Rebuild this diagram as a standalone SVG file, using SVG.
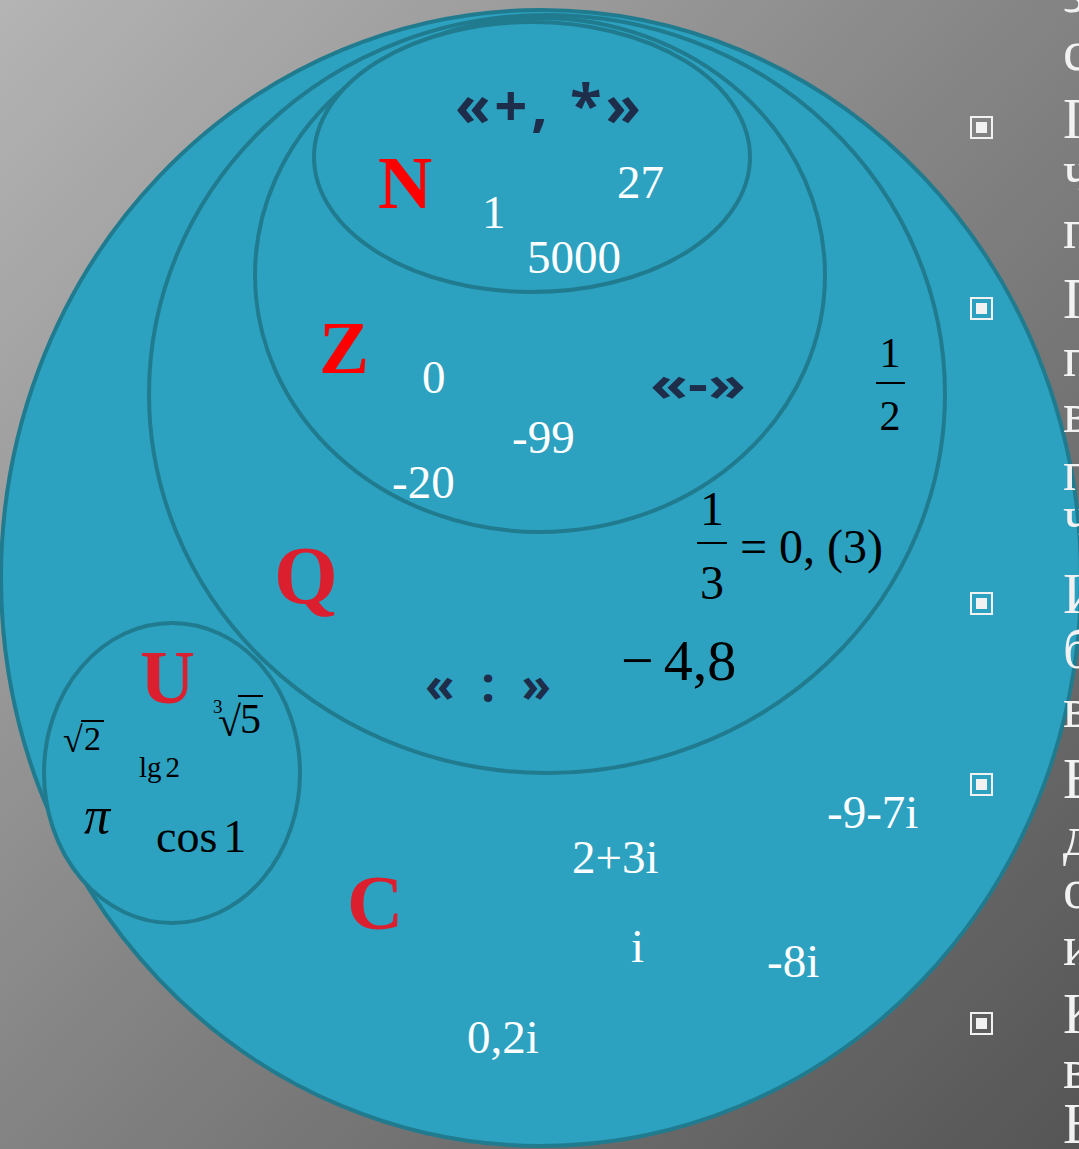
<svg xmlns="http://www.w3.org/2000/svg" width="1079" height="1149" viewBox="0 0 1079 1149">
<defs>
<linearGradient id="bg" x1="0" y1="0" x2="1" y2="1">
<stop offset="0" stop-color="#b4b4b4"/>
<stop offset="0.5" stop-color="#838383"/>
<stop offset="1" stop-color="#555555"/>
</linearGradient>
</defs>
<style>
.set{fill:#2ca2c0;stroke:#217b8f;stroke-width:4}
.lab{font-family:"Liberation Serif",serif;font-weight:bold}
.red1{fill:#ff0000}
.red2{fill:#dc1f2e}
.num{font-family:"Liberation Serif",serif;fill:#ffffff;font-size:47px}
.op{font-family:"Open Sans","Liberation Sans",sans-serif;font-weight:bold;fill:#1e2d4a}
.m{font-family:"Liberation Serif",serif;fill:#000000}
.side{font-family:"Liberation Serif",serif;fill:#f2f2f2;font-size:56px}
.bul{fill:none;stroke:#f2f2f2;stroke-width:2}
.bulc{fill:#f2f2f2}
.bar{stroke:#000;stroke-width:2}
</style>
<rect x="0" y="0" width="1079" height="1149" fill="url(#bg)"/>

<g id="set-C">
<ellipse class="set" cx="541" cy="578" rx="540" ry="568"/>
</g>
<g id="set-Q">
<ellipse class="set" cx="547" cy="394" rx="398" ry="379"/>
</g>
<g id="set-Z">
<ellipse class="set" cx="540" cy="275" rx="285" ry="257"/>
</g>
<g id="set-N">
<ellipse class="set" cx="532" cy="157" rx="218" ry="135"/>
</g>
<g id="set-U">
<ellipse class="set" cx="172" cy="773" rx="128" ry="150"/>
</g>

<g id="side-text">
<text class="side" x="1063" y="12">з</text>
<text class="side" x="1063" y="70">с</text>
<text class="side" x="1063" y="138">П</text>
<text class="side" x="1063" y="190">ч</text>
<text class="side" x="1063" y="248">п</text>
<text class="side" x="1063" y="318">П</text>
<text class="side" x="1063" y="376">п</text>
<text class="side" x="1063" y="432">в</text>
<text class="side" x="1063" y="490">п</text>
<text class="side" x="1063" y="535">ч</text>
<text class="side" x="1063" y="613">И</text>
<text class="side" x="1063" y="668">б</text>
<text class="side" x="1063" y="727">в</text>
<text class="side" x="1063" y="798">В</text>
<text class="side" x="1063" y="855">д</text>
<text class="side" x="1063" y="908">о</text>
<text class="side" x="1063" y="965">и</text>
<text class="side" x="1063" y="1033">К</text>
<text class="side" x="1063" y="1088">в</text>
<text class="side" x="1063" y="1143">Ь</text>
</g>

<g id="bullets">
<rect class="bul" x="971" y="117" width="21" height="21"/><rect class="bulc" x="976" y="122" width="11" height="11"/>
<rect class="bul" x="971" y="298" width="21" height="21"/><rect class="bulc" x="976" y="303" width="11" height="11"/>
<rect class="bul" x="971" y="593" width="21" height="21"/><rect class="bulc" x="976" y="598" width="11" height="11"/>
<rect class="bul" x="971" y="774" width="21" height="21"/><rect class="bulc" x="976" y="779" width="11" height="11"/>
<rect class="bul" x="971" y="1013" width="21" height="21"/><rect class="bulc" x="976" y="1018" width="11" height="11"/>
</g>

<g id="labels-N">
<text class="op" x="455" y="126" font-size="58" textLength="186" lengthAdjust="spacing">«+, *»</text>
<text class="lab red1" x="378" y="208" font-size="75">N</text>
<text class="num" x="482" y="228">1</text>
<text class="num" x="617" y="198">27</text>
<text class="num" x="527" y="273">5000</text>
</g>

<g id="labels-Z">
<text class="lab red1" x="319" y="373" font-size="75">Z</text>
<text class="num" x="422" y="393">0</text>
<text class="num" x="512" y="453">-99</text>
<text class="num" x="392" y="498">-20</text>
<text class="op" x="650" y="401" font-size="48" textLength="96" lengthAdjust="spacingAndGlyphs">«-»</text>
</g>

<g id="labels-Q">
<text class="lab red2" x="274" y="603" font-size="82">Q</text>
<text class="op" x="425" y="702" font-size="48" textLength="126" lengthAdjust="spacing">« : »</text>
<text class="m" x="890" y="367" font-size="42" text-anchor="middle">1</text>
<line class="bar" x1="876" y1="383" x2="905" y2="383"/>
<text class="m" x="890" y="430" font-size="42" text-anchor="middle">2</text>
<text class="m" x="712" y="525" font-size="48" text-anchor="middle">1</text>
<line class="bar" x1="697" y1="543" x2="727" y2="543"/>
<text class="m" x="712" y="599" font-size="48" text-anchor="middle">3</text>
<text class="m" x="740" y="563" font-size="48">= 0, (3)</text>
<text class="m" x="621" y="680" font-size="58">−<tspan dx="10">4,8</tspan></text>
</g>

<g id="labels-U">
<text class="lab red2" x="140" y="703" font-size="76">U</text>
<text class="m" x="63" y="752" font-size="36">√</text>
<line class="bar" x1="81" y1="721" x2="104" y2="721" stroke-width="1.5"/>
<text class="m" x="84" y="750" font-size="34">2</text>
<text class="m" x="213" y="713" font-size="19">3</text>
<text class="m" x="218" y="736" font-size="42">√</text>
<line class="bar" x1="238" y1="696" x2="263" y2="696" stroke-width="1.5"/>
<text class="m" x="240" y="733" font-size="42">5</text>
<text class="m" x="139" y="777" font-size="29">lg<tspan dx="4">2</tspan></text>
<text class="m" x="84" y="833" font-size="52" font-style="italic">π</text>
<text class="m" x="156" y="852" font-size="46">cos<tspan dx="6">1</tspan></text>
</g>

<g id="labels-C">
<text class="lab red2" x="347" y="929" font-size="78">C</text>
<text class="num" x="572" y="873">2+3i</text>
<text class="num" x="827" y="828">-9-7i</text>
<text class="num" x="631" y="962">i</text>
<text class="num" x="767" y="977">-8i</text>
<text class="num" x="467" y="1053">0,2i</text>
</g>
</svg>
